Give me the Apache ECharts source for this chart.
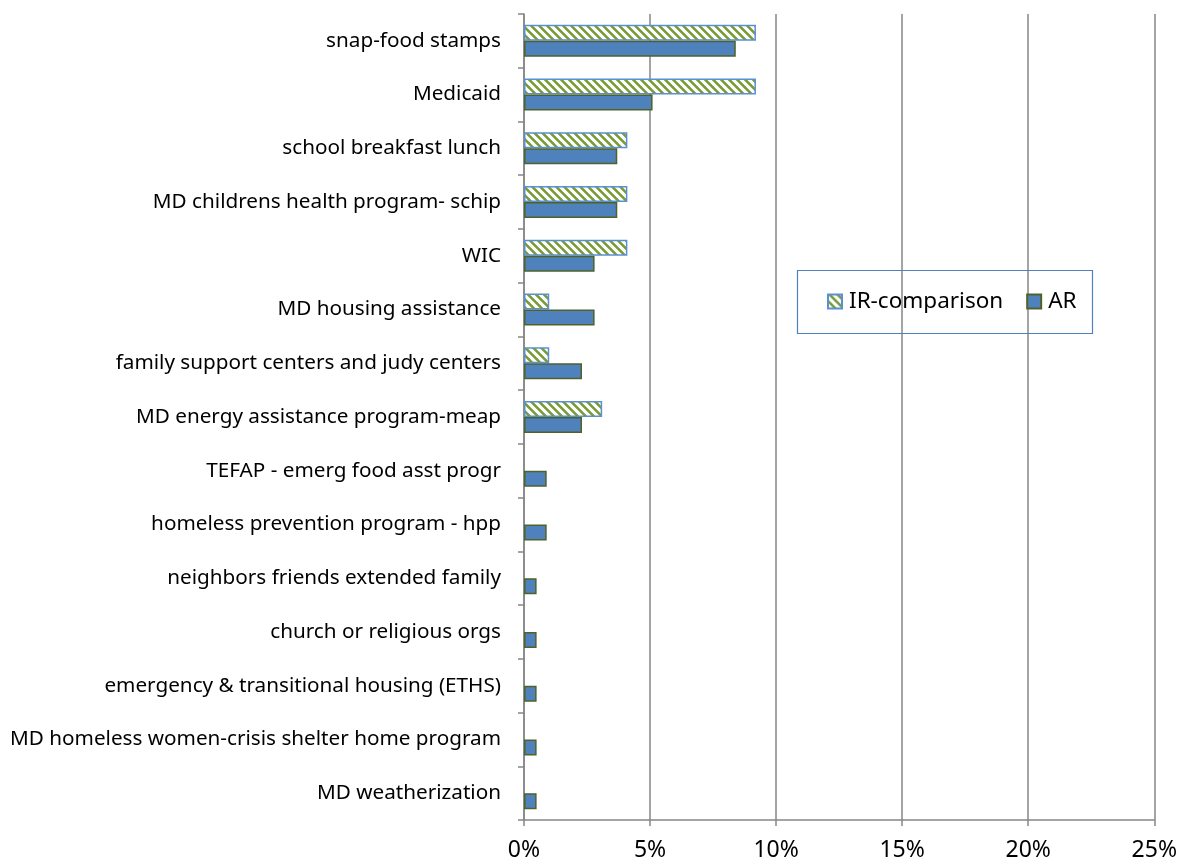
<!DOCTYPE html>
<html>
<head>
<meta charset="utf-8">
<script src="https://cdn.jsdelivr.net/npm/echarts@6/dist/echarts.min.js"></script>
<style>
html,body{margin:0;padding:0;background:#fff;}
#chart{width:1180px;height:863px;}
</style>
</head>
<body>
<div id="chart"></div>
<script>
var categories = [
  'snap-food stamps',
  'Medicaid',
  'school breakfast lunch',
  'MD childrens health program- schip',
  'WIC',
  'MD housing assistance',
  'family support centers and judy centers',
  'MD energy assistance program-meap',
  'TEFAP - emerg food asst progr',
  'homeless prevention program - hpp',
  'neighbors friends extended family',
  'church or religious orgs',
  'emergency & transitional housing (ETHS)',
  'MD homeless women-crisis shelter home program',
  'MD weatherization'
];
var irValues = [9.2, 9.2, 4.1, 4.1, 4.1, 1.0, 1.0, 3.1, null, null, null, null, null, null, null];
var arValues = [8.4, 5.1, 3.7, 3.7, 2.8, 2.8, 2.3, 2.3, 0.9, 0.9, 0.5, 0.5, 0.5, 0.5, 0.5];
var seriesNames = ['IR-comparison', 'AR'];

var FONT = 'Noto Sans';

function makePattern() {
  var c = document.createElement('canvas');
  c.width = 8; c.height = 8;
  var ctx = c.getContext('2d');
  ctx.fillStyle = '#ffffff';
  ctx.fillRect(0, 0, 8, 8);
  for (var y = 0; y < 8; y++) {
    for (var x = 0; x < 8; x++) {
      var d = (((x - y) % 8) + 8) % 8;
      if (d < 4) {
        ctx.fillStyle = (d === 0 || d === 3) ? '#93b55a' : '#789a3c';
        ctx.fillRect(x, y, 1, 1);
      }
    }
  }
  return c;
}
var pattern = { image: makePattern(), repeat: 'repeat' };

var chart = echarts.init(document.getElementById('chart'), null, {renderer: 'canvas'});
chart.setOption({
  animation: false,
  backgroundColor: '#ffffff',
  grid: { left: 524, right: 24, top: 14, bottom: 43, containLabel: false },
  xAxis: {
    type: 'value', min: 0, max: 25, interval: 5,
    axisLine: { show: true, lineStyle: { color: '#868686', width: 1.5 } },
    axisTick: { show: true, length: 6, lineStyle: { color: '#868686', width: 1.5 } },
    splitLine: { show: true, lineStyle: { color: '#868686', width: 1.5 } },
    axisLabel: { formatter: '{value}%', fontFamily: FONT, fontSize: 23, color: '#000', margin: 19 }
  },
  yAxis: {
    type: 'category', data: categories, inverse: true,
    axisLine: { show: true, lineStyle: { color: '#868686', width: 1.5 } },
    axisTick: { show: true, length: 6, inside: false, lineStyle: { color: '#868686', width: 1.5 } },
    axisLabel: { fontFamily: FONT, fontSize: 20.7, color: '#000', margin: 23 },
    splitLine: { show: false }
  },
  legend: {
    left: 822, top: 285,
    data: seriesNames,
    itemWidth: 14, itemHeight: 14, itemGap: 23,
    textStyle: { fontFamily: FONT, fontSize: 22.5, color: '#000', padding: [0, 0, 0, 2] },
    icon: 'rect'
  },
  graphic: [{
    type: 'rect', left: 795, top: 268, z: 100, silent: true,
    shape: { width: 295, height: 63 },
    style: { fill: 'none', stroke: '#4f81bd', lineWidth: 1.2 }
  }],
  series: [
    {
      name: seriesNames[0], type: 'bar', data: irValues,
      barWidth: 16, barGap: '0%',
      itemStyle: { color: pattern, borderColor: '#5b8fd3', borderWidth: 1.5 }
    },
    {
      name: seriesNames[1], type: 'bar', data: arValues,
      barWidth: 16, barGap: '0%',
      itemStyle: { color: '#4f81bd', borderColor: '#4f6228', borderWidth: 1.5 }
    }
  ]
});
</script>
</body>
</html>
